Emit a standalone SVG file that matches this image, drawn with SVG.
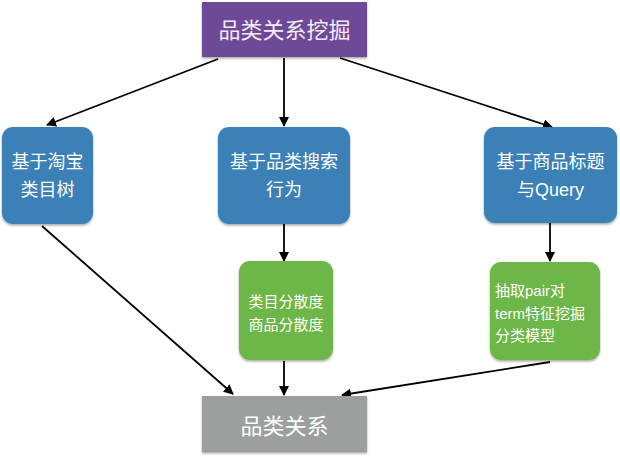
<svg xmlns="http://www.w3.org/2000/svg" width="620" height="459" viewBox="0 0 620 459">
<defs>
<marker id="ah" viewBox="0 0 10 10" refX="9" refY="5" markerWidth="10" markerHeight="10" markerUnits="userSpaceOnUse" orient="auto">
<path d="M0,0 L10,5 L0,10 z" fill="#000"/>
</marker>
<filter id="sh" x="-10%" y="-10%" width="120%" height="130%">
<feDropShadow dx="0" dy="1.5" stdDeviation="1.2" flood-color="#000" flood-opacity="0.35"/>
</filter>
</defs>
<style>
text{font-family:"Liberation Sans","Noto Sans CJK SC",sans-serif;fill:#fff}
.blue{fill:#3a80b6;filter:url(#sh)}
.green{fill:#6cb747;filter:url(#sh)}
.purple{fill:#6e4a98;filter:url(#sh)}
.grey{fill:#9c9f9e;filter:url(#sh)}
.big{font-size:22px;text-anchor:middle}
.mid{font-size:18px;text-anchor:middle}
.sm{font-size:15px}
.c{text-anchor:middle}
.ln{stroke:#000;stroke-width:1.8;fill:none;marker-end:url(#ah)}
</style>
<rect width="620" height="459" fill="#fff"/>
<g id="connectors">
<line class="ln" x1="218" y1="59" x2="47" y2="125"/>
<line class="ln" x1="284" y1="58" x2="284" y2="126"/>
<line class="ln" x1="340" y1="58" x2="552" y2="127"/>
<line class="ln" x1="284" y1="223" x2="284" y2="261"/>
<line class="ln" x1="550" y1="223" x2="550" y2="261"/>
<line class="ln" x1="42" y1="226" x2="233" y2="394"/>
<line class="ln" x1="284" y1="361" x2="284" y2="395"/>
<line class="ln" x1="550" y1="362" x2="342" y2="395"/>
</g>
<g id="n-top">
<rect class="purple" x="202" y="2" width="165" height="55"/>
<text class="big" x="284.5" y="38" style="fill:#f3ecf8">品类关系挖掘</text>
</g>
<g id="n-left">
<rect class="blue" x="2" y="127" width="91" height="97" rx="11"/>
<text class="mid" x="47.5" y="168">基于淘宝</text>
<text class="mid" x="47.5" y="196">类目树</text>
</g>
<g id="n-mid">
<rect class="blue" x="218" y="127" width="132" height="97" rx="11"/>
<text class="mid" x="284" y="168">基于品类搜索</text>
<text class="mid" x="284" y="196">行为</text>
</g>
<g id="n-right">
<rect class="blue" x="484" y="127" width="133" height="96" rx="11"/>
<text class="mid" x="550.5" y="168">基于商品标题</text>
<text class="mid" x="550.5" y="196">与Query</text>
</g>
<g id="n-gmid">
<rect class="green" x="239" y="261" width="94" height="99" rx="11"/>
<text class="sm c" x="286" y="307">类目分散度</text>
<text class="sm c" x="286" y="330">商品分散度</text>
</g>
<g id="n-gright">
<rect class="green" x="490" y="262" width="110" height="98" rx="11"/>
<text class="sm" x="495" y="296">抽取pair对</text>
<text class="sm" x="495" y="319">term特征挖掘</text>
<text class="sm" x="495" y="341">分类模型</text>
</g>
<g id="n-bottom">
<rect class="grey" x="202" y="396" width="165" height="56"/>
<text class="big" x="284.5" y="434">品类关系</text>
</g>
</svg>
